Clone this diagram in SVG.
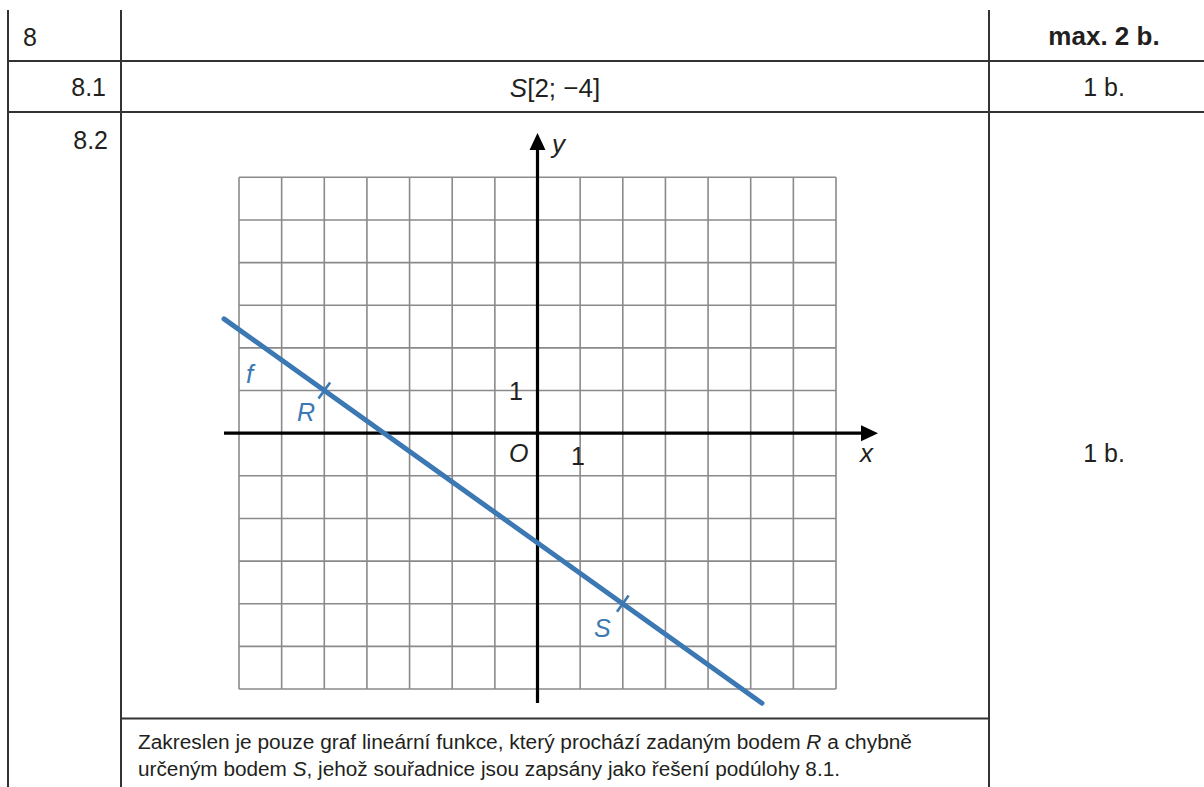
<svg xmlns="http://www.w3.org/2000/svg" width="1204" height="787" viewBox="0 0 1204 787">
<style>
.t{font-family:"Liberation Sans",Arial,sans-serif;fill:#231f20}
.b{font-weight:bold}
.i{font-style:italic}
.blue{fill:#3b78b4}
.frame{stroke:#333;stroke-width:2;fill:none}
.grid{stroke:#8a8a8a;stroke-width:1.6;fill:none}
.axis{stroke:#000;stroke-width:3.2;fill:none}
.fn{stroke:#3b78b4;stroke-width:5;stroke-linecap:round;fill:none}
.tick{stroke:#3b78b4;stroke-width:2.6;fill:none}
</style>
<rect width="1204" height="787" fill="#fff"/>
<g id="table" class="frame">
<line x1="8" y1="10" x2="8" y2="787"/>
<line x1="121" y1="10" x2="121" y2="787"/>
<line x1="989" y1="10" x2="989" y2="787"/>
<line x1="8" y1="61" x2="1204" y2="61"/>
<line x1="8" y1="112" x2="1204" y2="112"/>
<line x1="121" y1="718.5" x2="989" y2="718.5"/>
</g>
<g id="table-texts">
<text class="t" x="23" y="46" font-size="25">8</text>
<text class="t b" x="1104" y="45" font-size="26" text-anchor="middle">max. 2 b.</text>
<text class="t" x="106" y="96" font-size="25" text-anchor="end">8.1</text>
<text class="t" x="555" y="97" font-size="26" text-anchor="middle"><tspan class="i">S</tspan>[2; −4]</text>
<text class="t" x="1104" y="96" font-size="25" text-anchor="middle">1 b.</text>
<text class="t" x="108" y="149" font-size="25" text-anchor="end">8.2</text>
<text class="t" x="1104" y="462" font-size="25" text-anchor="middle">1 b.</text>
<text class="t" x="138" y="749" font-size="20" textLength="774" lengthAdjust="spacingAndGlyphs">Zakreslen je pouze graf lineární funkce, který prochází zadaným bodem <tspan class="i">R</tspan> a chybně</text>
<text class="t" x="138" y="776" font-size="20" textLength="702" lengthAdjust="spacingAndGlyphs">určeným bodem <tspan class="i">S</tspan>, jehož souřadnice jsou zapsány jako řešení podúlohy 8.1.</text>
</g>
<g id="grid" class="grid">
<path d="M239 177.3V689M281.64 177.3V689M324.29 177.3V689M366.93 177.3V689M409.57 177.3V689M452.21 177.3V689M494.86 177.3V689M580.14 177.3V689M622.79 177.3V689M665.43 177.3V689M708.07 177.3V689M750.71 177.3V689M793.36 177.3V689M836 177.3V689"/>
<path d="M239 177.3H836M239 219.94H836M239 262.59H836M239 305.23H836M239 347.87H836M239 390.51H836M239 475.8H836M239 518.44H836M239 561.09H836M239 603.73H836M239 646.37H836M239 689.01H836"/>
</g>
<g id="axes">
<line class="axis" x1="537.5" y1="703" x2="537.5" y2="148"/>
<polygon points="537.5,133 529.5,150 545.5,150" fill="#000"/>
<line class="axis" x1="224" y1="433.16" x2="863" y2="433.16"/>
<polygon points="878,433.16 861,425.16 861,441.16" fill="#000"/>
<text class="t i" x="552" y="153" font-size="26">y</text>
<text class="t i" x="860" y="462" font-size="26">x</text>
<text class="t i" x="509" y="462" font-size="25">O</text>
<text class="t" x="523" y="400" font-size="25" text-anchor="end">1</text>
<text class="t" x="571" y="465" font-size="25">1</text>
</g>
<g id="function-f">
<line class="fn" x1="224" y1="318.87" x2="762" y2="703.16"/>
<text class="t i blue" x="246" y="383" font-size="26">f</text>
</g>
<g id="point-R">
<line class="tick" x1="318.5" y1="398.6" x2="330.1" y2="382.4"/>
<text class="t i blue" x="297" y="421" font-size="25">R</text>
</g>
<g id="point-S">
<line class="tick" x1="617" y1="611.8" x2="628.6" y2="595.6"/>
<text class="t i blue" x="594" y="637" font-size="25">S</text>
</g>
</svg>
